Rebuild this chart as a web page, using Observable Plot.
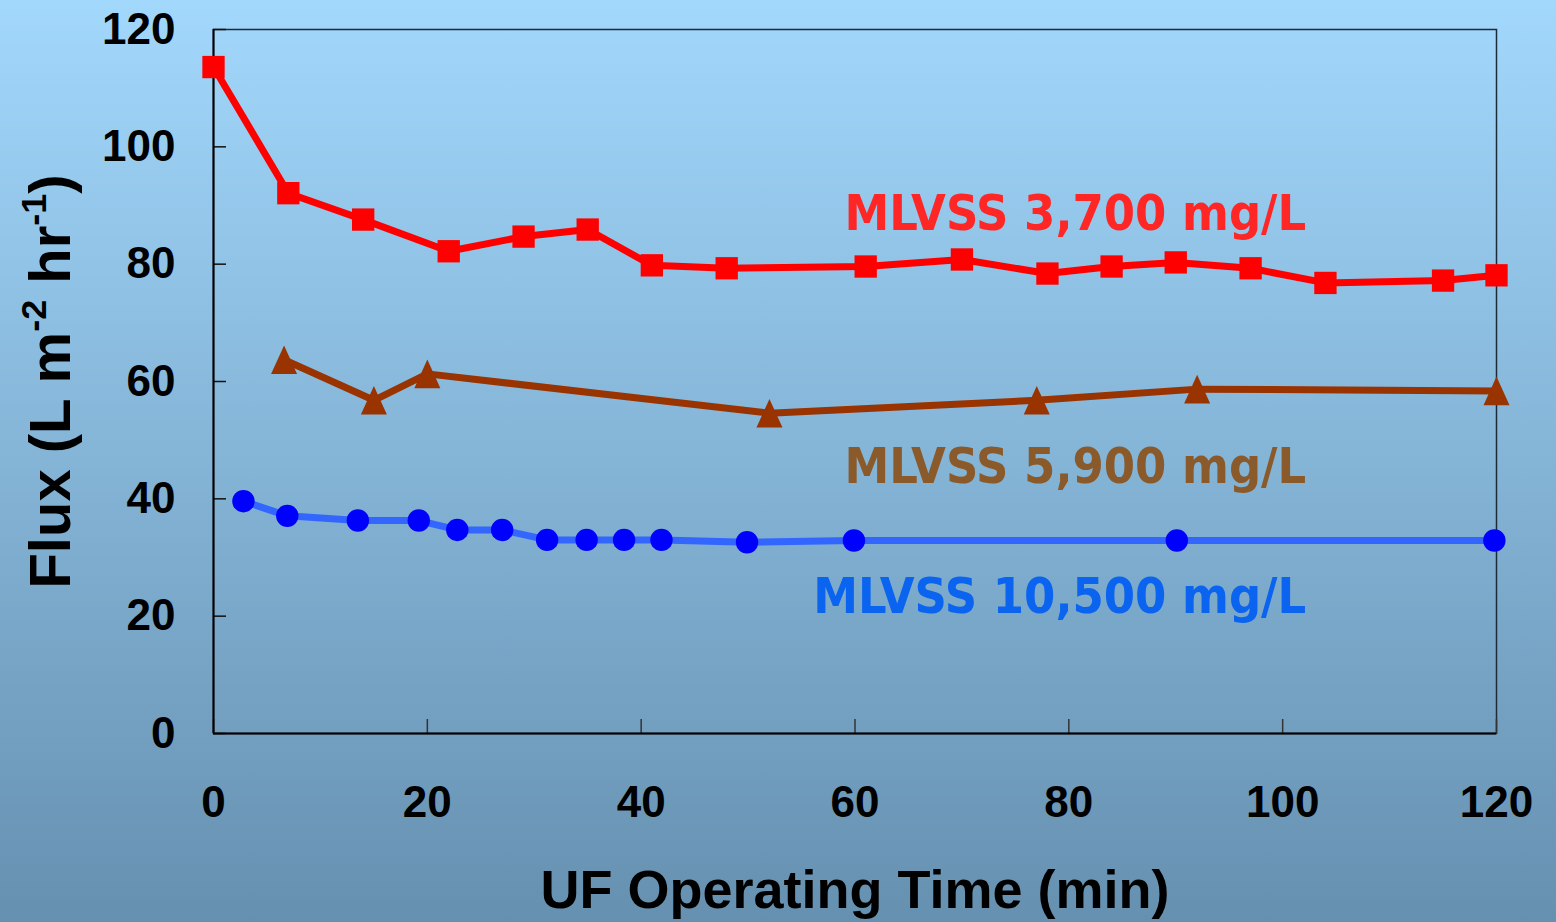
<!DOCTYPE html>
<html>
<head>
<meta charset="utf-8">
<script src="https://cdn.jsdelivr.net/npm/d3@7"></script>
<script src="https://cdn.jsdelivr.net/npm/@observablehq/plot@0.6"></script>
<style>
  html, body { margin: 0; padding: 0; background: linear-gradient(#a2d8fc, #6690b0); }
  #chart svg { display: block; }
</style>
</head>
<body>
<div id="chart"></div>
<script>
// ---- data ----
const redTime  = [0, 7, 14, 22, 29, 35, 41, 48, 61, 70, 78, 84, 90, 97, 104, 115, 120];
const redFlux  = [113.6, 92.1, 87.6, 82.2, 84.7, 85.9, 79.8, 79.3, 79.6, 80.8, 78.4, 79.6, 80.3, 79.3, 76.8, 77.2, 78.1];

const brownTime = [6.6, 15, 20, 52, 77, 92, 120];
const brownFlux = [63.7, 56.8, 61.3, 54.6, 56.8, 58.7, 58.4];

const blueTime = [2.8, 6.9, 13.5, 19.2, 22.8, 27.0, 31.2, 34.9, 38.4, 41.9, 49.9, 59.9, 90.1, 119.8];
const blueFlux = [39.6, 37.1, 36.3, 36.3, 34.7, 34.7, 33.0, 33.0, 33.0, 33.0, 32.6, 32.9, 32.9, 32.9];

const xTicks = [0, 20, 40, 60, 80, 100, 120];
const yTicks = [0, 20, 40, 60, 80, 100, 120];

const seriesLabels = ["MLVSS 3,700 mg/L", "MLVSS 5,900 mg/L", "MLVSS 10,500 mg/L"];
const xTitle = "UF Operating Time (min)";
const yTitle = "Flux (L m-2 hr-1)";

// ---- tables built from the arrays ----
const red = redTime.map((t, i) => ({t, f: redFlux[i]}));
const brown = brownTime.map((t, i) => ({t, f: brownFlux[i]}));
const blue = blueTime.map((t, i) => ({t, f: blueFlux[i]}));

// Excel-like tall triangle marker, centred on its bounding box
const tallTriangle = {
  draw(context, size) {
    const r = Math.sqrt(size / Math.PI);
    const hw = r * 1.0, hh = r * 1.1;
    context.moveTo(0, -hh);
    context.lineTo(hw, hh);
    context.lineTo(-hw, hh);
    context.closePath();
  }
};

const labelFont = "DejaVu Sans Condensed, DejaVu Sans, sans-serif";

const chart = Plot.plot({
  width: 1556,
  height: 922,
  marginLeft: 213,
  marginRight: 60,
  marginTop: 29,
  marginBottom: 189,
  style: {
    background: "linear-gradient(#a2d8fc, #6690b0)",
    fontFamily: "Liberation Sans, Arial, sans-serif",
    fontWeight: "bold",
    color: "black",
    overflow: "visible"
  },
  x: {domain: [0, 120], axis: null},
  y: {domain: [0, 120], axis: null},
  marks: [
    Plot.frame({stroke: "#1d2b38", strokeWidth: 1.5}),
    Plot.axisY({ticks: yTicks, tickSize: -13, tickPadding: 51, fontSize: 44, fontWeight: "bold", stroke: "#111", strokeWidth: 1.5, label: null, tickFormat: d => String(d)}),
    Plot.axisX({ticks: xTicks, tickSize: -14, tickPadding: 66, fontSize: 44, fontWeight: "bold", stroke: "#333", strokeWidth: 1.5, label: null, tickFormat: d => String(d)}),
    Plot.ruleX([0], {stroke: "black", strokeWidth: 2}),
    Plot.ruleY([0], {stroke: "black", strokeWidth: 2}),

    Plot.line(red, {x: "t", y: "f", stroke: "#ff0000", strokeWidth: 7}),
    Plot.dot(red, {x: "t", y: "f", symbol: "square", r: 12.6, fill: "#ff0000", stroke: "none"}),

    Plot.line(brown, {x: "t", y: "f", stroke: "#993300", strokeWidth: 7}),
    Plot.dot(brown, {x: "t", y: "f", symbol: tallTriangle, r: 13, fill: "#993300", stroke: "none"}),

    Plot.line(blue, {x: "t", y: "f", stroke: "#3366ff", strokeWidth: 7}),
    Plot.dot(blue, {x: "t", y: "f", r: 11.2, fill: "#0000ff", stroke: "none"}),

    Plot.text([seriesLabels[0]], {x: 102.2, y: 88.6, text: d => d, textAnchor: "end", lineAnchor: "middle", fill: "#ff2626", fontSize: 50, fontFamily: labelFont, fontWeight: "bold"}),
    Plot.text([seriesLabels[1]], {x: 102.2, y: 45.5, text: d => d, textAnchor: "end", lineAnchor: "middle", fill: "#8b5a2b", fontSize: 50, fontFamily: labelFont, fontWeight: "bold"}),
    Plot.text([seriesLabels[2]], {x: 102.2, y: 23.2, text: d => d, textAnchor: "end", lineAnchor: "middle", fill: "#0a64f0", fontSize: 50, fontFamily: labelFont, fontWeight: "bold"}),

    Plot.text([xTitle], {frameAnchor: "bottom", dy: 157, text: d => d, textAnchor: "middle", lineAnchor: "middle", fontSize: 54, fontWeight: "bold", fill: "black"}),
    Plot.text([yTitle], {frameAnchor: "left", dx: -162, dy: 0, rotate: -90, text: d => d, textAnchor: "middle", lineAnchor: "middle", fontSize: 58, fontWeight: "bold", fill: "black", className: "ytitle"})
  ]
});

document.getElementById("chart").appendChild(chart);

// superscripts for the y title
(function () {
  const t = chart.querySelector(".ytitle text") || Array.from(chart.querySelectorAll("text")).find(e => e.textContent === yTitle);
  if (!t) return;
  const ns = "http://www.w3.org/2000/svg";
  const fs = 58;
  while (t.firstChild) t.removeChild(t.firstChild);
  const parts = [["Flux (L m", 0], ["-2", -1], [" hr", 1], ["-1", -1], [")", 1]];
  for (const [s, shift] of parts) {
    const ts = document.createElementNS(ns, "tspan");
    ts.textContent = s;
    if (shift < 0) {
      ts.setAttribute("dy", -0.42 * fs);
      ts.setAttribute("font-size", 0.62 * fs);
    } else if (shift > 0) {
      ts.setAttribute("dy", 0.42 * fs);
      ts.setAttribute("font-size", fs);
    }
    t.appendChild(ts);
  }
})();
</script>
</body>
</html>
